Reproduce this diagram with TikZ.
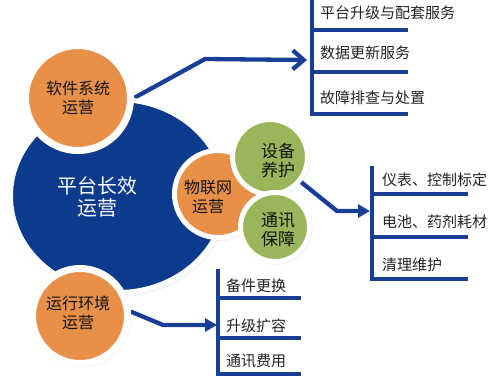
\documentclass[tikz,border=0pt]{standalone}
\usepackage{fontspec}
\setmainfont{Noto Sans CJK SC}
\usetikzlibrary{shapes.geometric,arrows.meta,shadows,backgrounds}
\definecolor{coreblue}{RGB}{12,58,140}
\definecolor{lineblue}{RGB}{24,62,150}
\definecolor{orng}{RGB}{232,143,72}
\definecolor{grn}{RGB}{154,182,90}
\definecolor{txt}{RGB}{20,20,20}
\definecolor{itemtxt}{RGB}{35,35,35}
\begin{document}
\begin{tikzpicture}[x=1pt,y=-1pt,
  lbl/.style={font=\fontsize{16}{19}\selectfont, text=txt, align=center, inner sep=0pt},
  item/.style={font=\fontsize{15}{17}\selectfont, text=itemtxt, anchor=west, inner sep=0pt},
  ring/.style={circle, draw=white, inner sep=0pt,
    circular drop shadow={shadow scale=1.07, shadow xshift=1pt, shadow yshift=-1pt, opacity=0.4}},
  conn/.style={draw=lineblue, line width=4.3pt},
  bracket/.style={draw=lineblue, line width=4.3pt},
]
\useasboundingbox (0,0) rectangle (490,378);
% circles
\node[ellipse, draw=white, line width=5pt, fill=coreblue, minimum width=215pt, minimum height=193pt, inner sep=0pt,
  circular drop shadow={shadow scale=1.04, shadow xshift=1pt, shadow yshift=-1pt, opacity=0.4}] (core) at (118,196) {};
\node[ring, fill=orng, line width=7pt, minimum size=105pt] (sw) at (78,98) {};
\node[ring, fill=orng, line width=7pt, minimum size=95pt] (env) at (80,316) {};
\node[ring, fill=orng, line width=5pt, minimum size=87pt] (iot) at (218,194) {};
\node[ring, fill=grn, line width=5pt, minimum size=75pt] (g1) at (270,157) {};
\node[ring, fill=grn, line width=5pt, minimum size=69pt] (g2) at (275,227) {};
% labels
\node[lbl, font=\fontsize{20}{22}\selectfont, text=white] (coret) at (97,197) {平台长效\\运营};
\node[lbl] (swt) at (78,98) {软件系统\\运营};
\node[lbl] (envt) at (78,313) {运行环境\\运营};
\node[lbl] (iott) at (208,197) {物联网\\运营};
\node[lbl, font=\fontsize{17}{19}\selectfont] (g1t) at (278,161) {设备\\养护};
\node[lbl, font=\fontsize{17}{19}\selectfont] (g2t) at (278,230) {通讯\\保障};
% list 1
\draw[bracket] (312,-3) -- (312,114) -- (408,114);
\draw[bracket] (312,30) -- (408,30);
\draw[bracket] (312,72) -- (408,72);
\node[item] (a1) at (320,13) {平台升级与配套服务};
\node[item] (a2) at (320,53) {数据更新服务};
\node[item] (a3) at (320,98) {故障排查与处置};
\coordinate (a0) at (307,60);
% list 2
\draw[bracket] (372,166) -- (372,279) -- (468,279);
\draw[bracket] (372,194) -- (468,194);
\draw[bracket] (372,237) -- (468,237);
\node[item] (b1) at (382,180) {仪表、控制标定};
\node[item] (b2) at (382,222) {电池、药剂耗材};
\node[item] (b3) at (382,265) {清理维护};
\coordinate (b0) at (370,211);
% list 3
\draw[bracket] (218,269) -- (218,374) -- (301,374);
\draw[bracket] (218,298) -- (301,298);
\draw[bracket] (218,338) -- (301,338);
\node[item] (c1) at (226,286) {备件更换};
\node[item] (c2) at (226,326) {升级扩容};
\node[item] (c3) at (226,361) {通讯费用};
\coordinate (c0) at (217,325);
% connectors
\coordinate (k1) at (205,59);
\coordinate (k2) at (337,211);
\coordinate (k3) at (163,325);
\begin{scope}[on background layer]
\draw[conn, line join=miter, -{Straight Barb[length=11pt,width=19pt]}] (sw.east) -- (k1) -- (a0);
\draw[conn, line join=miter, -{Triangle[length=12pt,width=13pt]}] (g1.center) -- (k2) -- (b0);
\draw[conn, line join=miter, -{Triangle[length=12pt,width=13pt]}] (env.5) -- (k3) -- (c0);
\end{scope}
\end{tikzpicture}
\end{document}
